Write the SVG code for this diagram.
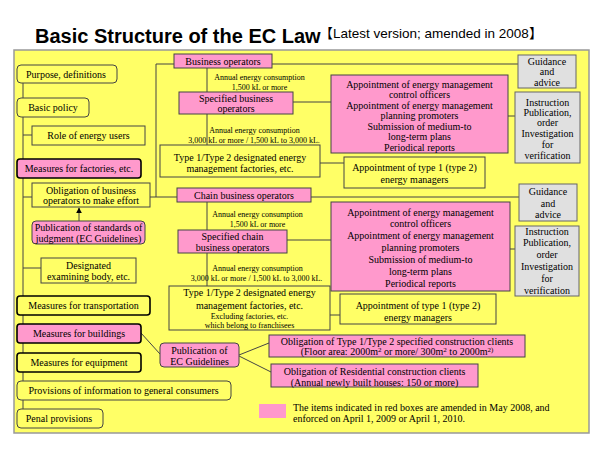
<svg xmlns="http://www.w3.org/2000/svg" width="600" height="450" viewBox="0 0 600 450">
<defs>
<style>
.t{font-family:"Liberation Serif","Times New Roman",serif;font-size:10px;fill:#000;text-anchor:middle}
.s{font-size:8px}
.b{stroke:#444;stroke-width:1}
.y{fill:#ffff66}
.p{fill:#ff99cc}
.g{fill:#e0e0e0;stroke:#666;stroke-width:1}
.k{stroke:#000;stroke-width:1.6}
.c{stroke:#444;stroke-width:1;fill:none}
</style>
<marker id="ah" viewBox="0 0 10 10" refX="9" refY="5" markerWidth="6" markerHeight="6" orient="auto"><path d="M0,0 L10,5 L0,10 z" fill="#000"/></marker>
</defs>
<rect width="600" height="450" fill="#fff"/>
<text x="35" y="43" font-family="Liberation Sans, Arial, sans-serif" font-weight="bold" font-size="20">Basic Structure of the EC Law</text>
<text x="319.5" y="38" font-family="Liberation Sans, Arial, 'Noto Sans CJK JP', sans-serif" font-size="13.5">【Latest version; amended in 2008】</text>
<rect x="14" y="50" width="575" height="383" fill="#ffff66" stroke="#999" stroke-width="1.5"/>

<g id="connectors">
<path class="c" d="M23,83 V409"/>
<path class="c" d="M23,135 H32"/>
<path class="c" d="M23,197 H32"/>
<path class="c" d="M23,268 H41"/>
<path class="c" d="M79,221 V208" stroke="#000" marker-end="url(#ah)"/>
<path class="c" d="M174,64 H156 V197 H150"/>
<path class="c" d="M156,197 H177"/>
<path class="c" d="M272,64 H518"/>
<path class="c" d="M207,68 V92 M207,114 V145"/>
<path class="c" d="M293,102 H331"/>
<path class="c" d="M508,116 H515"/>
<path class="c" d="M320,163 H344"/>
<path class="c" d="M311,197 H519"/>
<path class="c" d="M207,202 V230 M207,253 V286"/>
<path class="c" d="M287,240 H331"/>
<path class="c" d="M510,249 H515"/>
<path class="c" d="M330,315 H340"/>
<path class="c" d="M141,333 L160,354"/>
<path class="c" d="M239,355 L269,343"/>
<path class="c" d="M239,356 L271,372" stroke="#000" stroke-width="1.5"/>
</g>

<g id="purpose"><rect class="y b" x="17" y="65" width="100" height="18" rx="4"/><text class="t" x="66" y="77.5">Purpose, definitions</text></g>
<g id="basic-policy"><rect class="y b" x="17" y="98" width="72" height="19" rx="4"/><text class="t" x="53" y="111">Basic policy</text></g>
<g id="role"><rect class="y b" x="32" y="126" width="113" height="19"/><text class="t" x="88.5" y="139">Role of energy users</text></g>
<g id="factories"><rect class="p k" x="17" y="159" width="124" height="19" rx="3"/><text class="t" x="79" y="172">Measures for factories, etc.</text></g>
<g id="obligation-effort"><rect class="y b" x="32" y="183" width="118" height="24"/><text class="t" x="91" y="193.5">Obligation of business</text><text class="t" x="91" y="203.5">operators to make effort</text></g>
<g id="standards"><rect class="p b" x="32" y="221" width="113" height="23" rx="4"/><text class="t" x="88.5" y="230.5">Publication of standards of</text><text class="t" x="88.5" y="241.5">judgment (EC Guidelines)</text></g>
<g id="designated"><rect class="y b" x="41" y="258" width="95" height="25"/><text class="t" x="88.5" y="268.5">Designated</text><text class="t" x="88.5" y="279.5">examining body, etc.</text></g>
<g id="transportation"><rect class="y k" x="17" y="296" width="133" height="19" rx="3"/><text class="t" x="83.5" y="309">Measures for transportation</text></g>
<g id="buildings"><rect class="p k" x="17" y="324" width="124" height="19" rx="3"/><text class="t" x="79" y="337">Measures for buildings</text></g>
<g id="equipment"><rect class="y k" x="17" y="353" width="124" height="19" rx="3"/><text class="t" x="79" y="366">Measures for equipment</text></g>
<g id="provisions"><rect class="y b" x="17" y="381" width="214" height="19" rx="4"/><text class="t" x="123.5" y="394">Provisions of information to general consumers</text></g>
<g id="penal"><rect class="y b" x="17" y="409" width="86" height="19" rx="4"/><text class="t" x="59" y="422">Penal provisions</text></g>

<g id="business-operators"><rect class="p b" x="174" y="54" width="98" height="14"/><text class="t" x="223" y="64.5">Business operators</text></g>
<g id="label-1500a"><text class="t s" x="259.5" y="80">Annual energy consumption</text><text class="t s" x="259.5" y="90">1,500 kL or more</text></g>
<g id="specified-business"><rect class="p b" x="179" y="92" width="114" height="22"/><text class="t" x="236" y="101.5">Specified business</text><text class="t" x="236" y="112">operators</text></g>
<g id="label-3000a"><text class="t s" x="254.5" y="133">Annual energy consumption</text><text class="t s" x="254" y="143">3,000 kL or more / 1,500 kL to 3,000 kL.</text></g>
<g id="type-factories"><rect class="y b" x="160" y="145" width="160" height="32"/><text class="t" x="240" y="161">Type 1/Type 2 designated energy</text><text class="t" x="240" y="172">management factories, etc.</text></g>
<g id="appointments-1"><rect class="p b" x="331" y="75" width="177" height="78"/>
<text class="t" x="419.5" y="87.5">Appointment of energy management</text>
<text class="t" x="419.5" y="98">control officers</text>
<text class="t" x="419.5" y="108.5">Appointment of energy management</text>
<text class="t" x="419.5" y="119">planning promoters</text>
<text class="t" x="419.5" y="129.5">Submission of medium-to</text>
<text class="t" x="419.5" y="140">long-term plans</text>
<text class="t" x="419.5" y="150.5">Periodical reports</text></g>
<g id="guidance-1"><rect class="g" x="518" y="55" width="58" height="33"/><text class="t" x="547" y="64.5">Guidance</text><text class="t" x="547" y="75">and</text><text class="t" x="547" y="85.5">advice</text></g>
<g id="instruction-1"><rect class="g" x="515" y="92" width="65" height="71"/>
<text class="t" x="547.5" y="105.5">Instruction</text>
<text class="t" x="547.5" y="115.5">Publication,</text>
<text class="t" x="547.5" y="125.5">order</text>
<text class="t" x="547.5" y="136.5">Investigation</text>
<text class="t" x="547.5" y="147.5">for</text>
<text class="t" x="547.5" y="158.5">verification</text></g>
<g id="energy-managers-1"><rect class="y b" x="344" y="157" width="141" height="31"/><text class="t" x="414.5" y="170.5">Appointment of type 1 (type 2)</text><text class="t" x="414.5" y="182.5">energy managers</text></g>

<g id="chain-operators"><rect class="p b" x="177" y="188" width="134" height="14"/><text class="t" x="244" y="198.5">Chain business operators</text></g>
<g id="label-1500b"><text class="t s" x="257.5" y="217">Annual energy consumption</text><text class="t s" x="257.5" y="227">1,500 kL or more</text></g>
<g id="specified-chain"><rect class="p b" x="178" y="230" width="109" height="23"/><text class="t" x="232.5" y="239.5">Specified chain</text><text class="t" x="232.5" y="250.5">business operators</text></g>
<g id="label-3000b"><text class="t s" x="257.5" y="271">Annual energy consumption</text><text class="t s" x="256.5" y="281">3,000 kL or more / 1,500 kL to 3,000 kL.</text></g>
<g id="type-factories-chain"><rect class="y b" x="169" y="286" width="161" height="44"/>
<text class="t" x="249.5" y="296">Type 1/Type 2 designated energy</text>
<text class="t" x="249.5" y="309">management factories, etc.</text>
<text class="t s" x="249.5" y="318.5">Excluding factories, etc.</text>
<text class="t s" x="249.5" y="327.5">which belong to franchisees</text></g>
<g id="appointments-2"><rect class="p b" x="331" y="202" width="179" height="89"/>
<text class="t" x="420.5" y="215.5">Appointment of energy management</text>
<text class="t" x="420.5" y="227">control officers</text>
<text class="t" x="420.5" y="239">Appointment of energy management</text>
<text class="t" x="420.5" y="251">planning promoters</text>
<text class="t" x="420.5" y="263">Submission of medium-to</text>
<text class="t" x="420.5" y="275">long-term plans</text>
<text class="t" x="420.5" y="287">Periodical reports</text></g>
<g id="guidance-2"><rect class="g" x="519" y="184" width="58" height="37"/><text class="t" x="548" y="194.5">Guidance</text><text class="t" x="548" y="206.5">and</text><text class="t" x="548" y="217.5">advice</text></g>
<g id="instruction-2"><rect class="g" x="515" y="226" width="64" height="70"/>
<text class="t" x="547" y="234.5">Instruction</text>
<text class="t" x="547" y="245.5">Publication,</text>
<text class="t" x="547" y="258">order</text>
<text class="t" x="547" y="270">Investigation</text>
<text class="t" x="547" y="282">for</text>
<text class="t" x="547" y="294">verification</text></g>
<g id="energy-managers-2"><rect class="y b" x="340" y="294" width="156" height="30"/><text class="t" x="418" y="308.5">Appointment of type 1 (type 2)</text><text class="t" x="418" y="320.5">energy managers</text></g>

<g id="ec-guidelines"><rect class="p b" x="160" y="343" width="79" height="24" rx="4"/><text class="t" x="199.5" y="353.5">Publication of</text><text class="t" x="199.5" y="364.5">EC Guidelines</text></g>
<g id="construction-clients"><rect class="p b" x="269" y="335" width="256" height="22"/>
<text class="t" x="397" y="344.5">Obligation of Type 1/Type 2 specified construction clients</text>
<text class="t" x="397" y="354.5">(Floor area: 2000m<tspan font-size="7" dy="-3">2</tspan><tspan dy="3"> or more/ 300m</tspan><tspan font-size="7" dy="-3">2</tspan><tspan dy="3"> to 2000m</tspan><tspan font-size="7" dy="-3">2)</tspan></text></g>
<g id="residential-clients"><rect class="p b" x="271" y="364" width="207" height="23"/>
<text class="t" x="374.5" y="375">Obligation of Residential construction clients</text>
<text class="t" x="374.5" y="385.5">(Annual newly built houses: 150 or more)</text></g>
<g id="legend"><rect class="p" x="259" y="404" width="27" height="14"/>
<text class="t" x="293" y="410.5" style="text-anchor:start">The items indicated in red boxes are amended in May 2008, and</text>
<text class="t" x="293" y="421.5" style="text-anchor:start">enforced on April 1, 2009 or April 1, 2010.</text></g>
</svg>
